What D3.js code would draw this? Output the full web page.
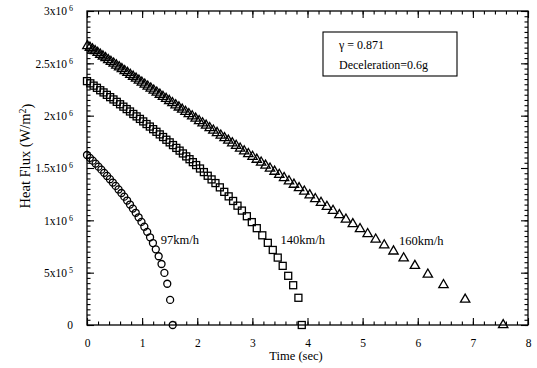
<!DOCTYPE html>
<html><head><meta charset="utf-8">
<script src="https://cdn.jsdelivr.net/npm/d3@7"></script>
<style>
html,body{margin:0;padding:0;background:#fff;}
svg{display:block;font-family:"Liberation Serif","Times New Roman",serif;}
</style></head>
<body>
<svg id="chart" width="537" height="368"></svg>
<script>
// ---- data (time in s, heat flux in W/m^2) ----
const t97 = [0,0.052,0.104,0.156,0.208,0.260,0.312,0.364,0.416,0.468,0.520,0.572,0.624,0.676,0.728,0.780,0.832,0.884,0.936,0.988,1.040,1.092,1.144,1.196,1.248,1.300,1.352,1.404,1.456,1.508,1.555];
const q97 = [1.624e6,1.597e6,1.570e6,1.542e6,1.513e6,1.484e6,1.454e6,1.424e6,1.393e6,1.361e6,1.329e6,1.295e6,1.261e6,1.226e6,1.189e6,1.151e6,1.112e6,1.072e6,1.029e6,0.985e6,0.939e6,0.890e6,0.838e6,0.783e6,0.723e6,0.657e6,0.583e6,0.498e6,0.394e6,0.240e6,0];

const t140 = [0,0.06,0.12,0.18,0.24,0.30,0.36,0.42,0.48,0.54,0.60,0.66,0.72,0.78,0.84,0.90,0.96,1.02,1.08,1.14,1.20,1.26,1.32,1.38,1.44,1.50,1.56,1.62,1.68,1.74,1.80,1.86,1.92,1.98,2.05,2.12,2.19,2.26,2.33,2.41,2.49,2.57,2.65,2.73,2.81,2.90,2.99,3.08,3.18,3.28,3.37,3.46,3.55,3.65,3.74,3.835,3.896];
const q140 = [2.330e6,2.309e6,2.287e6,2.266e6,2.243e6,2.222e6,2.199e6,2.177e6,2.155e6,2.132e6,2.109e6,2.086e6,2.063e6,2.040e6,2.016e6,1.993e6,1.969e6,1.945e6,1.920e6,1.896e6,1.871e6,1.846e6,1.821e6,1.796e6,1.770e6,1.745e6,1.719e6,1.692e6,1.666e6,1.639e6,1.611e6,1.584e6,1.556e6,1.528e6,1.495e6,1.461e6,1.426e6,1.391e6,1.356e6,1.315e6,1.272e6,1.229e6,1.185e6,1.140e6,1.093e6,1.039e6,0.983e6,0.925e6,0.857e6,0.785e6,0.717e6,0.644e6,0.565e6,0.470e6,0.380e6,0.260e6,0];

const t160 = [0.007,0.053,0.100,0.147,0.194,0.241,0.289,0.337,0.386,0.434,0.484,0.533,0.583,0.633,0.684,0.735,0.786,0.837,0.890,0.942,0.995,1.048,1.102,1.156,1.211,1.266,1.322,1.378,1.435,1.492,1.550,1.608,1.667,1.727,1.787,1.847,1.909,1.971,2.034,2.097,2.161,2.226,2.292,2.359,2.427,2.495,2.564,2.635,2.706,2.778,2.852,2.927,3.003,3.080,3.159,3.239,3.320,3.403,3.488,3.575,3.664,3.754,3.847,3.942,4.040,4.141,4.245,4.352,4.463,4.578,4.697,4.822,4.953,5.091,5.237,5.392,5.560,5.744,5.948,6.183,6.467,6.860,7.550];
const q160 = [2.667e6,2.651e6,2.634e6,2.618e6,2.601e6,2.584e6,2.567e6,2.551e6,2.533e6,2.516e6,2.499e6,2.481e6,2.464e6,2.446e6,2.428e6,2.410e6,2.392e6,2.374e6,2.355e6,2.337e6,2.318e6,2.299e6,2.280e6,2.261e6,2.241e6,2.222e6,2.202e6,2.182e6,2.162e6,2.142e6,2.122e6,2.101e6,2.080e6,2.059e6,2.038e6,2.017e6,1.995e6,1.973e6,1.950e6,1.928e6,1.906e6,1.883e6,1.859e6,1.836e6,1.811e6,1.787e6,1.763e6,1.738e6,1.713e6,1.687e6,1.661e6,1.635e6,1.608e6,1.581e6,1.553e6,1.524e6,1.496e6,1.466e6,1.436e6,1.406e6,1.374e6,1.342e6,1.309e6,1.276e6,1.241e6,1.205e6,1.169e6,1.131e6,1.092e6,1.051e6,1.009e6,0.965e6,0.918e6,0.870e6,0.818e6,0.763e6,0.704e6,0.639e6,0.566e6,0.483e6,0.383e6,0.244e6,0];

const seriesNames = ["97km/h","140km/h","160km/h"];
const labelPos = [[1.34,0.77e6],[3.51,0.77e6],[5.66,0.76e6]]; // label anchor (time, flux)

const xTicks = [0,1,2,3,4,5,6,7,8];
const xMinor = d3.range(0,8.001,0.2);
const yTicks = [0,5e5,1e6,1.5e6,2e6,2.5e6,3e6];
const yTickMant = ["0","5x10","1x10","1.5x10","2x10","2.5x10","3x10"];
const yTickExp  = ["","5","6","6","6","6","6"];
const yMinor = d3.range(0,3e6+1,5e4);

const xTitle = "Time (sec)";
const yTitle = "Heat Flux (W/m";
const boxLines = ["γ = 0.871","Deceleration=0.6g"];

// ---- layout ----
const L=87, R=528, T=11, B=325;
const svg = d3.select("#chart");
const x = d3.scaleLinear().domain([0,8]).range([L,R]);
const y = d3.scaleLinear().domain([0,3e6]).range([B,T]);

// frame
svg.append("rect").attr("x",L).attr("y",T).attr("width",R-L).attr("height",B-T)
  .attr("fill","none").attr("stroke","#000").attr("stroke-width",1.3);

function styleAxis(g){ g.select(".domain").remove(); g.selectAll("line").attr("stroke","#000").attr("stroke-width",1.1); }

// bottom
svg.append("g").attr("transform",`translate(0,${B})`)
  .call(d3.axisBottom(x).tickValues(xMinor).tickSize(-3.5).tickFormat(""))
  .call(styleAxis);
const gxb = svg.append("g").attr("transform",`translate(0,${B})`)
  .call(d3.axisBottom(x).tickValues(xTicks).tickSize(-7).tickSizeOuter(0).tickPadding(14).tickFormat(d3.format("d")))
  .call(styleAxis);
gxb.selectAll("text").attr("font-size",11.5).attr("fill","#000").attr("font-family","Liberation Serif");
// top
svg.append("g").attr("transform",`translate(0,${T})`)
  .call(d3.axisTop(x).tickValues(xMinor).tickSize(-3.5).tickFormat("")).call(styleAxis);
svg.append("g").attr("transform",`translate(0,${T})`)
  .call(d3.axisTop(x).tickValues(xTicks).tickSize(-7).tickFormat("")).call(styleAxis);

// left
svg.append("g").attr("transform",`translate(${L},0)`)
  .call(d3.axisLeft(y).tickValues(yMinor).tickSize(-3.5).tickFormat("")).call(styleAxis);
const gyl = svg.append("g").attr("transform",`translate(${L},0)`)
  .call(d3.axisLeft(y).tickValues(yTicks).tickSize(-7).tickSizeOuter(0).tickPadding(14).tickFormat(""))
  .call(styleAxis);
gyl.selectAll(".tick").each(function(d,i){
  const t = d3.select(this).select("text");
  t.attr("font-size",11.5).attr("fill","#000").attr("font-family","Liberation Serif").attr("dy","0.32em");
  t.text(null);
  t.append("tspan").text(yTickMant[i]);
  if (yTickExp[i]) t.append("tspan").attr("dy","-0.5em").attr("dx","2").attr("font-size",8).text(yTickExp[i]);
});
// right
svg.append("g").attr("transform",`translate(${R},0)`)
  .call(d3.axisRight(y).tickValues(yMinor).tickSize(-3.5).tickFormat("")).call(styleAxis);
svg.append("g").attr("transform",`translate(${R},0)`)
  .call(d3.axisRight(y).tickValues(yTicks).tickSize(-7).tickFormat("")).call(styleAxis);

// axis titles
svg.append("text").attr("x",296).attr("y",360).attr("text-anchor","middle")
  .attr("font-size",12.5).attr("fill","#000").text(xTitle);
const yt = svg.append("text").attr("transform","translate(30,156) rotate(-90)")
  .attr("text-anchor","middle").attr("font-size",14.5).attr("fill","#000");
yt.append("tspan").text(yTitle);
yt.append("tspan").attr("dy","-0.45em").attr("font-size",10).text("2");
yt.append("tspan").attr("dy","0.45em").text(")");

// markers
const g = svg.append("g").attr("fill","none").attr("stroke","#000").attr("stroke-width",1.3);
const d97 = t97.map((t,i)=>({t,q:q97[i]}));
const d140 = t140.map((t,i)=>({t,q:q140[i]}));
const d160 = t160.map((t,i)=>({t,q:q160[i]}));

g.selectAll("circle.s97").data(d97).join("circle").attr("class","s97")
  .attr("cx",d=>x(d.t)).attr("cy",d=>y(d.q)).attr("r",3.5);
g.selectAll("rect.s140").data(d140).join("rect").attr("class","s140")
  .attr("x",d=>x(d.t)-3.5).attr("y",d=>y(d.q)-3.5).attr("width",7).attr("height",7);
const tri = d3.symbol(d3.symbolTriangle, 38);
g.selectAll("path.s160").data(d160).join("path").attr("class","s160")
  .attr("transform",d=>`translate(${x(d.t)},${y(d.q)})`).attr("d",tri);

// series labels
svg.selectAll("text.lab").data(seriesNames).join("text").attr("class","lab")
  .attr("x",(d,i)=>x(labelPos[i][0])).attr("y",(d,i)=>y(labelPos[i][1]))
  .attr("font-size",12.5).attr("fill","#000").text(d=>d);

// info box
svg.append("rect").attr("x",323).attr("y",32).attr("width",134).attr("height",44)
  .attr("fill","#fff").attr("stroke","#000").attr("stroke-width",1.1);
svg.selectAll("text.box").data(boxLines).join("text").attr("class","box")
  .attr("x",339).attr("y",(d,i)=>49+i*19.5).attr("font-size",12).attr("fill","#000").text(d=>d);
</script>
</body></html>
